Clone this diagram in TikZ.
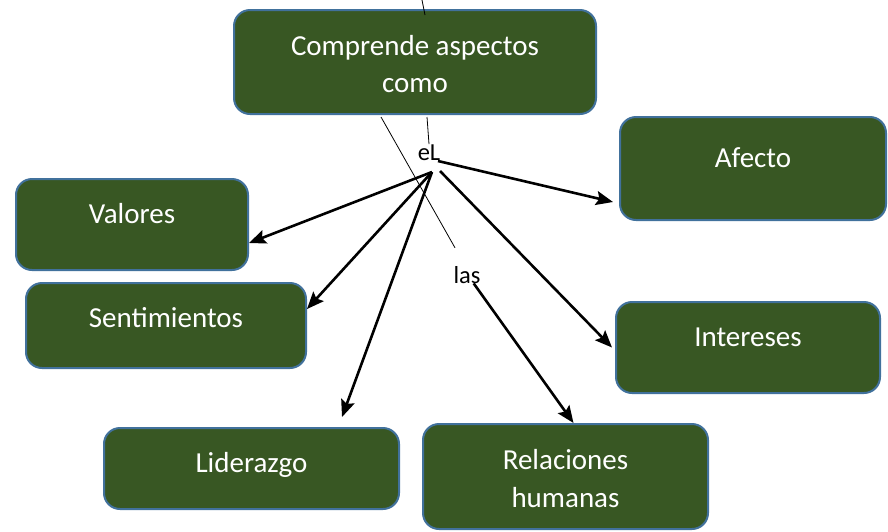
\documentclass[tikz,border=0pt]{standalone}
\usepackage{fontspec}
\setmainfont{Carlito}
\usepackage{tikz}
\usetikzlibrary{arrows.meta}
\definecolor{colorCaja}{HTML}{385723}
\definecolor{colorBorde}{HTML}{41719C}

\begin{document}
\begin{tikzpicture}[x=1pt, y=-1pt,
        caja/.style={draw=colorBorde, fill=colorCaja, line width=2pt, rounded corners=16pt, text=white, align=center, anchor=north west, inner sep=0pt, outer sep=0pt, text height=45pt, font=\fontsize{29}{37.5}\selectfont},
        etiqueta/.style={inner sep=0pt, anchor=base, font=\fontsize{24.5}{28}\selectfont},
        flecha/.style={-{Stealth[length=17pt,width=14pt,inset=3pt]}, line width=2.6pt},
        linea/.style={line width=0.8pt}]
        \useasboundingbox (0,0) rectangle (888,531);
        \node[caja, minimum width=362pt, minimum height=104pt, text height=82.5pt, text depth=21.5pt] (comprende) at (234,10) {Comprende aspectos\\como};
        \node[caja, minimum width=266pt, minimum height=103pt, text height=50pt, text depth=53pt] (afecto) at (620,117) {Afecto};
        \node[caja, minimum width=232pt, minimum height=91pt, text height=44pt, text depth=47pt] (valores) at (16,179) {Valores};
        \node[caja, minimum width=280pt, minimum height=85pt, text height=44pt, text depth=41pt] (sentimientos) at (26,283) {Sentimientos};
        \node[caja, minimum width=264pt, minimum height=91pt, text height=44pt, text depth=47pt] (intereses) at (616,302) {Intereses};
        \node[caja, minimum width=295pt, minimum height=81pt, text height=44pt, text depth=37pt] (liderazgo) at (104,428) {Liderazgo};
        \node[caja, minimum width=285pt, minimum height=105pt, text height=83pt, text depth=22pt] (relaciones) at (423,424) {Relaciones\\humanas};
        \node[etiqueta] (el) at (429,160) {eL};
        \node[etiqueta] (las) at (467,283) {las};
        \coordinate (arriba) at (422,0);
        \coordinate (nudo) at (432,172);
        \coordinate (nudoA) at (438,161);
        \coordinate (nudoI) at (440,171);
        \draw[linea] (arriba) -- ([shift={(3,5)}]comprende.north -| arriba);
        \draw[linea] ([shift={(12,3)}]comprende.south) -- (el.north);
        \draw[linea] ([shift={(-34,3)}]comprende.south) -- ([shift={(-12,-18)}]las.north);
        \draw[flecha] (nudoA) -- ([shift={(-7,-18)}]afecto.south west);
        \draw[flecha] (nudo) -- ([shift={(1,-27)}]valores.south east);
        \draw[flecha] (nudo) -- ([shift={(1,26)}]sentimientos.north east);
        \draw[flecha] (nudo) -- ([shift={(-57,-11)}]liderazgo.north east);
        \draw[flecha] (nudoI) -- ([shift={(-4,0)}]intereses.west);
        \draw[flecha] ([xshift=-7pt]las.south east) -- ([shift={(8,-1)}]relaciones.north);
    \end{tikzpicture}
\end{document}
